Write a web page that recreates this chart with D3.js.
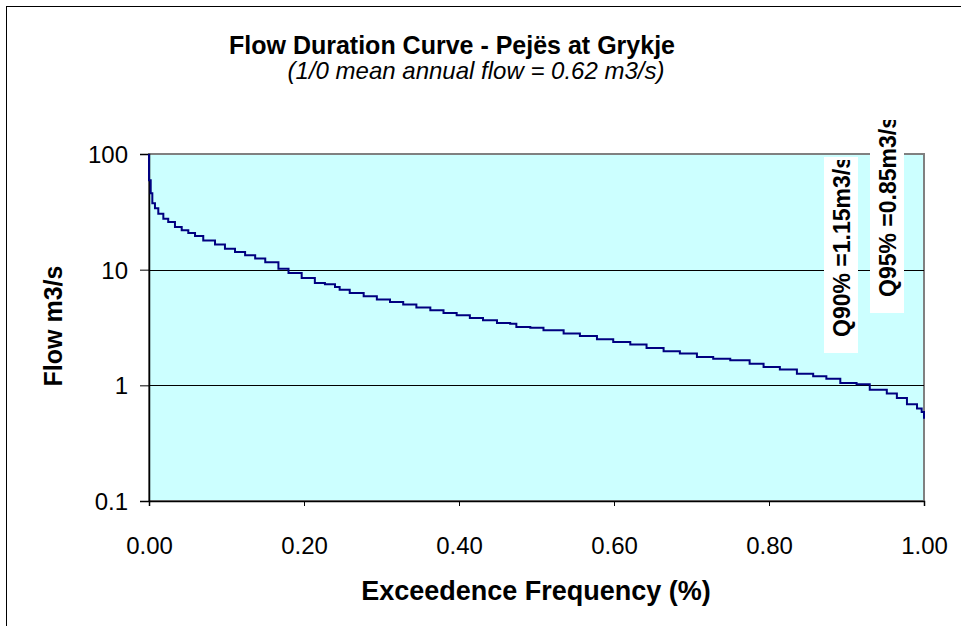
<!DOCTYPE html>
<html><head><meta charset="utf-8">
<script src="https://cdn.jsdelivr.net/npm/d3@7"></script>
<style>body{margin:0;background:#fff}svg{display:block;font-family:"Liberation Sans",Arial,sans-serif}</style>
</head><body>
<svg id="c" width="961" height="626"></svg>
<script>
const titleText = "Flow Duration Curve - Pejës at Grykje";
const subtitleText = "(1/0 mean annual flow = 0.62 m3/s)";
const xTitle = "Exceedence Frequency (%)";
const yTitle = "Flow m3/s";
const xTicks = [0, 0.2, 0.4, 0.6, 0.8, 1.0];
const yTicks = [0.1, 1, 10, 100];
const annotations = ["Q90% =1.15m3/s", "Q95% =0.85m3/s"];
const freq = [0, 0, 0.0022, 0.0043, 0.0077, 0.012, 0.0185, 0.0248, 0.0335, 0.0422, 0.0507, 0.0594, 0.070, 0.0852, 0.098, 0.111, 0.124, 0.137, 0.150, 0.167, 0.180, 0.197, 0.214, 0.227, 0.240, 0.246, 0.259, 0.277, 0.294, 0.311, 0.328, 0.345, 0.363, 0.380, 0.397, 0.414, 0.431, 0.449, 0.466, 0.474, 0.492, 0.509, 0.535, 0.556, 0.578, 0.599, 0.621, 0.642, 0.664, 0.685, 0.707, 0.728, 0.750, 0.775, 0.793, 0.814, 0.836, 0.857, 0.874, 0.892, 0.913, 0.930, 0.952, 0.965, 0.978, 0.991, 0.997, 1.000];
const flow = [100, 59.2, 45.7, 37.5, 33.9, 30.5, 27.6, 25.8, 23.4, 21.9, 20.7, 19.5, 17.9, 16.5, 15.2, 14.2, 13.3, 12.5, 11.6, 10.2, 9.35, 8.47, 7.67, 7.47, 7.08, 6.72, 6.28, 5.88, 5.51, 5.25, 4.99, 4.70, 4.45, 4.22, 4.03, 3.82, 3.65, 3.46, 3.41, 3.19, 3.15, 2.99, 2.80, 2.67, 2.50, 2.37, 2.26, 2.10, 1.97, 1.88, 1.76, 1.70, 1.65, 1.54, 1.44, 1.37, 1.26, 1.20, 1.14, 1.05, 1.02, 0.918, 0.848, 0.776, 0.685, 0.629, 0.588, 0.515];

const svg = d3.select("#c");
const L = 149, R = 924, T = 154, B = 501;
const x = d3.scaleLinear().domain([0, 1]).range([L, R]);
const y = d3.scaleLog().domain([0.1, 100]).range([B, T]);

// outer chart border
svg.append("rect").attr("x", 6.5).attr("y", 6.5).attr("width", 1000).attr("height", 1000)
  .attr("fill", "#fff").attr("stroke", "#000").attr("stroke-width", 1);

// plot area
svg.append("rect").attr("x", L).attr("y", T).attr("width", R - L).attr("height", B - T)
  .attr("fill", "#CCFFFF").attr("stroke", "#808080").attr("stroke-width", 2);

// gridlines
svg.append("g").selectAll("line").data(yTicks.filter(d => d > 0.1 && d < 100)).join("line")
  .attr("x1", L).attr("x2", R).attr("y1", d => Math.round(y(d)) + 0.5).attr("y2", d => Math.round(y(d)) + 0.5)
  .attr("stroke", "#000").attr("stroke-width", 1);

// axes
const yAxis = d3.axisLeft(y).tickValues(yTicks).tickFormat(d => String(d)).tickSize(9).tickPadding(12);
const gy = svg.append("g").attr("transform", `translate(${L},0)`).call(yAxis);
gy.select(".domain").attr("stroke", "#000").attr("stroke-width", 1.5);
gy.selectAll(".tick line").attr("stroke", "#000");
gy.selectAll("text").attr("font-size", 24).attr("fill", "#000").attr("font-family", "Liberation Sans, Arial").attr("dy", "0.36em");

const xAxis = d3.axisBottom(x).tickValues(xTicks).tickFormat(d3.format(".2f")).tickSize(5).tickPadding(31);
const gx = svg.append("g").attr("transform", `translate(0,${B})`).call(xAxis);
gx.select(".domain").attr("stroke", "#000").attr("stroke-width", 1.5);
gx.selectAll(".tick line").attr("stroke", "#000");
gx.selectAll("text").attr("font-size", 24).attr("fill", "#000").attr("font-family", "Liberation Sans, Arial");

// curve
const data = freq.map((f, i) => [f, flow[i]]);
svg.append("path").datum(data)
  .attr("d", d3.line().x(d => x(d[0])).y(d => y(d[1])).curve(d3.curveStepAfter))
  .attr("fill", "none").attr("stroke", "#000080").attr("stroke-width", 2);

// annotations (text boxes, clipped)
const boxes = [
  {x0: 824, y0: 157, w: 34, h: 196, tx: 850, ty: 337},
  {x0: 870, y0: 117, w: 34, h: 196, tx: 896, ty: 297}
];
boxes.forEach((b, i) => {
  const id = "clip" + i;
  svg.append("clipPath").attr("id", id).append("rect")
    .attr("x", b.x0).attr("y", b.y0 + 3).attr("width", b.w).attr("height", b.h - 3);
  svg.append("rect").attr("x", b.x0).attr("y", b.y0).attr("width", b.w).attr("height", b.h).attr("fill", "#fff");
  svg.append("g").attr("clip-path", `url(#${id})`).append("text")
    .attr("transform", `translate(${b.tx},${b.ty}) rotate(-90)`)
    .attr("font-size", 23).attr("font-weight", "bold").attr("fill", "#000")
    .text(annotations[i]);
});

// titles
svg.append("text").attr("x", 452).attr("y", 54).attr("text-anchor", "middle")
  .attr("font-size", 25).attr("font-weight", "bold").text(titleText);
svg.append("text").attr("x", 476).attr("y", 79).attr("text-anchor", "middle")
  .attr("font-size", 24).attr("font-style", "italic").text(subtitleText);
svg.append("text").attr("x", 536).attr("y", 600).attr("text-anchor", "middle")
  .attr("font-size", 27).attr("font-weight", "bold").text(xTitle);
svg.append("text").attr("transform", "translate(62,326) rotate(-90)").attr("text-anchor", "middle")
  .attr("font-size", 25).attr("font-weight", "bold").text(yTitle);
</script>
</body></html>
